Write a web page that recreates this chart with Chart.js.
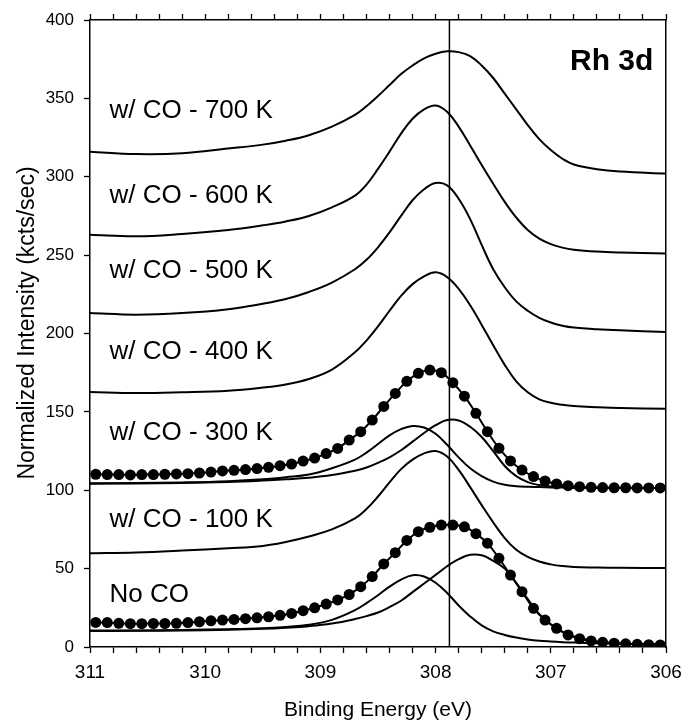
<!DOCTYPE html>
<html><head><meta charset="utf-8">
<script src="https://cdn.jsdelivr.net/npm/chart.js@4.4.1/dist/chart.umd.min.js"></script>
<style>html,body{margin:0;padding:0;background:#fff;}#wrap{width:683px;height:725px;}</style>
</head><body><div id="wrap"><canvas id="c" width="683" height="725"></canvas></div>
<script>
// Binding energies (eV) of the measured data points (dots)
const dotEnergies = [310.95,310.85,310.75,310.65,310.55,310.45,310.35,310.25,310.15,310.05,
  309.95,309.85,309.75,309.65,309.55,309.45,309.35,309.25,309.15,309.05,
  308.95,308.85,308.75,308.65,308.55,308.45,308.35,308.25,308.15,308.05,
  307.95,307.85,307.75,307.65,307.55,307.45,307.35,307.25,307.15,307.05,
  306.95,306.85,306.75,306.65,306.55,306.45,306.35,306.25,306.15,306.05];
// Binding energies (eV) at which the smooth spectra/components are read
const lineEnergies = [311,310.6,310.2,309.8,309.5,309.3,309.1,308.9,308.7,308.6,308.5,308.4,308.3,308.2,308.1,308.0,
  307.9,307.8,307.7,307.6,307.5,307.4,307.3,307.2,307.1,307.0,306.9,306.8,306.6,306.4,306.0];

// Spectra (normalized intensity, kcts/sec)
const co700 = [316,314.5,315,318,320.5,323,326.5,332,339.5,345,351.5,358.5,365.5,371,375.5,378.5,380,379.5,377,371,363,353,343,333,324,317,311.5,307.8,304.8,303.3,302];
const co600 = [263,262,263.5,266,269,271.5,275,280.5,288,295,305,316,327.5,337,343,345.5,341.5,332,320,307.5,295.5,284,274,266,260.5,257,254.8,253.5,252.3,251.7,251];
const co500 = [213,212,213,215.5,219,222,226.5,232.5,241,247,255,264.5,275,285,292,296,294.5,286,273,256.5,241,229.5,220.5,214.5,210,207,205,203.8,202.7,202,201];
const co400 = [162.7,162,162.5,163.5,165.5,167.5,171,177,188,195.5,204.5,214.5,224,231.5,236.5,239,236,228.5,218,205.5,192.5,180,169.5,162.5,158,155.8,154.5,153.7,153,152.5,152];
const co100 = [59.8,60.3,61.5,63,64.5,67,70.5,75,82,88,96,105,113.5,119.5,123.5,125,121.5,113,102,90.5,79.5,69.5,62,57.5,54.5,52.7,51.6,51,50.7,50.5,50.4];
// 300 K: measured points and two fitted components
const co300Dots = [110.2,110.0,110.0,109.8,110.0,110.0,110.2,110.4,110.6,111.0,
  111.6,112.3,112.7,113.2,113.8,114.6,115.7,116.7,118.6,120.5,
  123.4,126.7,132,137.4,144.8,153.5,161.8,169.5,174.6,176.7,
  175,168.6,160,149.1,137.4,126.8,118.7,112.9,108.7,105.9,
  104,102.9,102.3,101.9,101.7,101.6,101.6,101.5,101.5,101.5];
const co300CompA = [104.4,104.6,105,105.8,107,108.3,110,114,119.5,124,129.5,135,139,141,140,136,129,121,114,109,105.5,103.5,102.6,102.2,102,101.8,101.7,101.6,101.5,101.5,101.4];
const co300CompB = [104.2,104.3,104.6,105.3,106.2,107,108,109.7,112.5,114.5,117.5,121,125.5,131,136.5,141.5,144.8,144.5,140.5,134,125,115.5,109,105.2,103.3,102.4,102,101.8,101.6,101.5,101.4];
// No CO: measured points and two fitted components
const noCoDots = [15.7,15.6,15.1,14.9,14.9,15.0,15.0,15.1,15.6,16.1,
  16.7,17.2,17.6,18.1,18.6,19.3,20.2,21.4,23.2,25.0,
  27.4,30.0,33.5,38.5,44.9,53.0,60.2,68.0,73.6,76.4,
  77.8,77.8,76.7,72.3,66.2,56.6,45.9,35.3,24.7,17.2,
  11.9,7.7,5.3,3.9,3.0,2.4,2.0,1.7,1.5,1.3];
const noCoCompA = [10.5,10.6,10.9,11.4,12,12.8,14.2,17.3,23.5,28,33,38.5,43,45.8,45,41,34.5,26.5,19.5,13.8,10,7.7,6,4.8,4,3.5,3.1,2.8,2.4,2.1,1.8];
const noCoCompB = [10.2,10.3,10.5,11,11.6,12.3,13.3,15,17.8,19.7,22,25.5,29.5,35,40.5,46,51.5,56,58.8,58.5,55,50,41,30.5,21,14.5,9.8,6.7,3.5,2.3,1.6];

// Reference line (eV)
const refLineEnergy = 307.88;
// Tick settings
const xMin = 306, xMax = 311, xMinorStep = 0.2;
const yMin = 0, yMax = 400, yStep = 50;
// Text annotations
const spectrumLabels = ['w/ CO - 700 K','w/ CO - 600 K','w/ CO - 500 K','w/ CO - 400 K','w/ CO - 300 K','w/ CO - 100 K','No CO'];
const spectrumLabelEnergy = 310.83;
const spectrumLabelValues = [337.5, 283.3, 235.4, 183.7, 132, 76.6, 28.7];
const panelTitle = 'Rh 3d';
const panelTitleEnergy = 306.11, panelTitleValue = 368;
const yTitle = 'Normalized Intensity (kcts/sec)';
const xTitle = 'Binding Energy (eV)';

const FONT = '"Liberation Sans", Arial, Helvetica, sans-serif';
Chart.defaults.font.family = FONT;
Chart.defaults.color = '#000';

const pts = (xs, ys) => ys.map((y, i) => ({x: xs[i], y}));
const lineDs = (ys) => ({data: pts(lineEnergies, ys), borderColor: '#000', borderWidth: 2, pointRadius: 0,
  tension: 0.4, fill: false});
const dotDs = (ys) => ({data: pts(dotEnergies, ys), borderColor: '#000', borderWidth: 2, pointRadius: 5.5,
  pointBackgroundColor: '#000', pointBorderColor: '#000', pointBorderWidth: 0, pointHoverRadius: 5.5,
  tension: 0.4, fill: false});

const textPlugin = {
  id: 'texts',
  afterDatasetsDraw(chart) {
    const {ctx, scales: {x, y}} = chart;
    ctx.save();
    ctx.fillStyle = '#000';
    ctx.textBaseline = 'alphabetic';
    ctx.textAlign = 'left';
    ctx.font = '26px ' + FONT;
    spectrumLabels.forEach((t, i) => {
      ctx.fillText(t, x.getPixelForValue(spectrumLabelEnergy), y.getPixelForValue(spectrumLabelValues[i]));
    });
    ctx.textAlign = 'right';
    ctx.font = 'bold 30px ' + FONT;
    ctx.fillText(panelTitle, x.getPixelForValue(panelTitleEnergy), y.getPixelForValue(panelTitleValue));
    ctx.restore();
  },
  afterDraw(chart) {
    const {ctx} = chart;
    ctx.save();
    ctx.fillStyle = '#000';
    ctx.font = '23px ' + FONT;
    ctx.textAlign = 'center';
    ctx.textBaseline = 'middle';
    ctx.translate(28, 323);
    ctx.rotate(-Math.PI / 2);
    ctx.fillText(yTitle, 0, 0);
    ctx.restore();
  }
};

const tickCb = (v) => Math.abs(v - Math.round(v)) < 1e-6 ? String(Math.round(v)) : '';

new Chart(document.getElementById('c'), {
  type: 'line',
  data: {datasets: [
    dotDs(noCoDots), dotDs(co300Dots),
    lineDs(noCoCompA), lineDs(noCoCompB), lineDs(co300CompA), lineDs(co300CompB),
    lineDs(co100), lineDs(co400), lineDs(co500), lineDs(co600), lineDs(co700),
    {data: [{x: refLineEnergy, y: yMin}, {x: refLineEnergy, y: yMax}], borderColor: '#000', borderWidth: 1.5, pointRadius: 0}
  ]},
  options: {
    responsive: false, animation: false, devicePixelRatio: 1,
    layout: {padding: 0},
    plugins: {legend: {display: false}, tooltip: {enabled: false}},
    scales: {
      x: {type: 'linear', position: 'bottom', reverse: true, min: xMin, max: xMax,
        ticks: {stepSize: xMinorStep, callback: tickCb, autoSkip: false, maxRotation: 0, font: {size: 19}, padding: 8, color: '#000'},
        grid: {drawOnChartArea: false, drawTicks: true, tickLength: 6, tickColor: '#000', tickWidth: 1.3},
        border: {display: true, color: '#000', width: 1.5},
        title: {display: true, text: xTitle, font: {size: 21}, color: '#000', padding: {top: 0, bottom: 2}},
        afterFit: (s) => { s.height = 78; s.paddingLeft = 0; s.paddingRight = 0; }
      },
      x2: {type: 'linear', position: 'top', reverse: true, min: xMin, max: xMax,
        ticks: {stepSize: xMinorStep, display: false, autoSkip: false},
        grid: {drawOnChartArea: false, drawTicks: true, tickLength: 6, tickColor: '#000', tickWidth: 1.3},
        border: {display: true, color: '#000', width: 1.5},
        afterFit: (s) => { s.height = 20; s.paddingLeft = 0; s.paddingRight = 0; }
      },
      y: {type: 'linear', position: 'left', min: yMin, max: yMax,
        ticks: {stepSize: yStep, font: {size: 17}, padding: 10, color: '#000'},
        grid: {drawOnChartArea: false, drawTicks: true, tickLength: 6, tickColor: '#000', tickWidth: 1.3},
        border: {display: true, color: '#000', width: 1.5},
        afterFit: (s) => { s.width = 90; s.paddingTop = 0; s.paddingBottom = 0; }
      },
      y2: {type: 'linear', position: 'right', min: yMin, max: yMax,
        ticks: {display: false},
        grid: {drawOnChartArea: false, drawTicks: false},
        border: {display: true, color: '#000', width: 1.5},
        afterFit: (s) => { s.width = 17; }
      }
    }
  },
  plugins: [textPlugin]
});
</script></body></html>
